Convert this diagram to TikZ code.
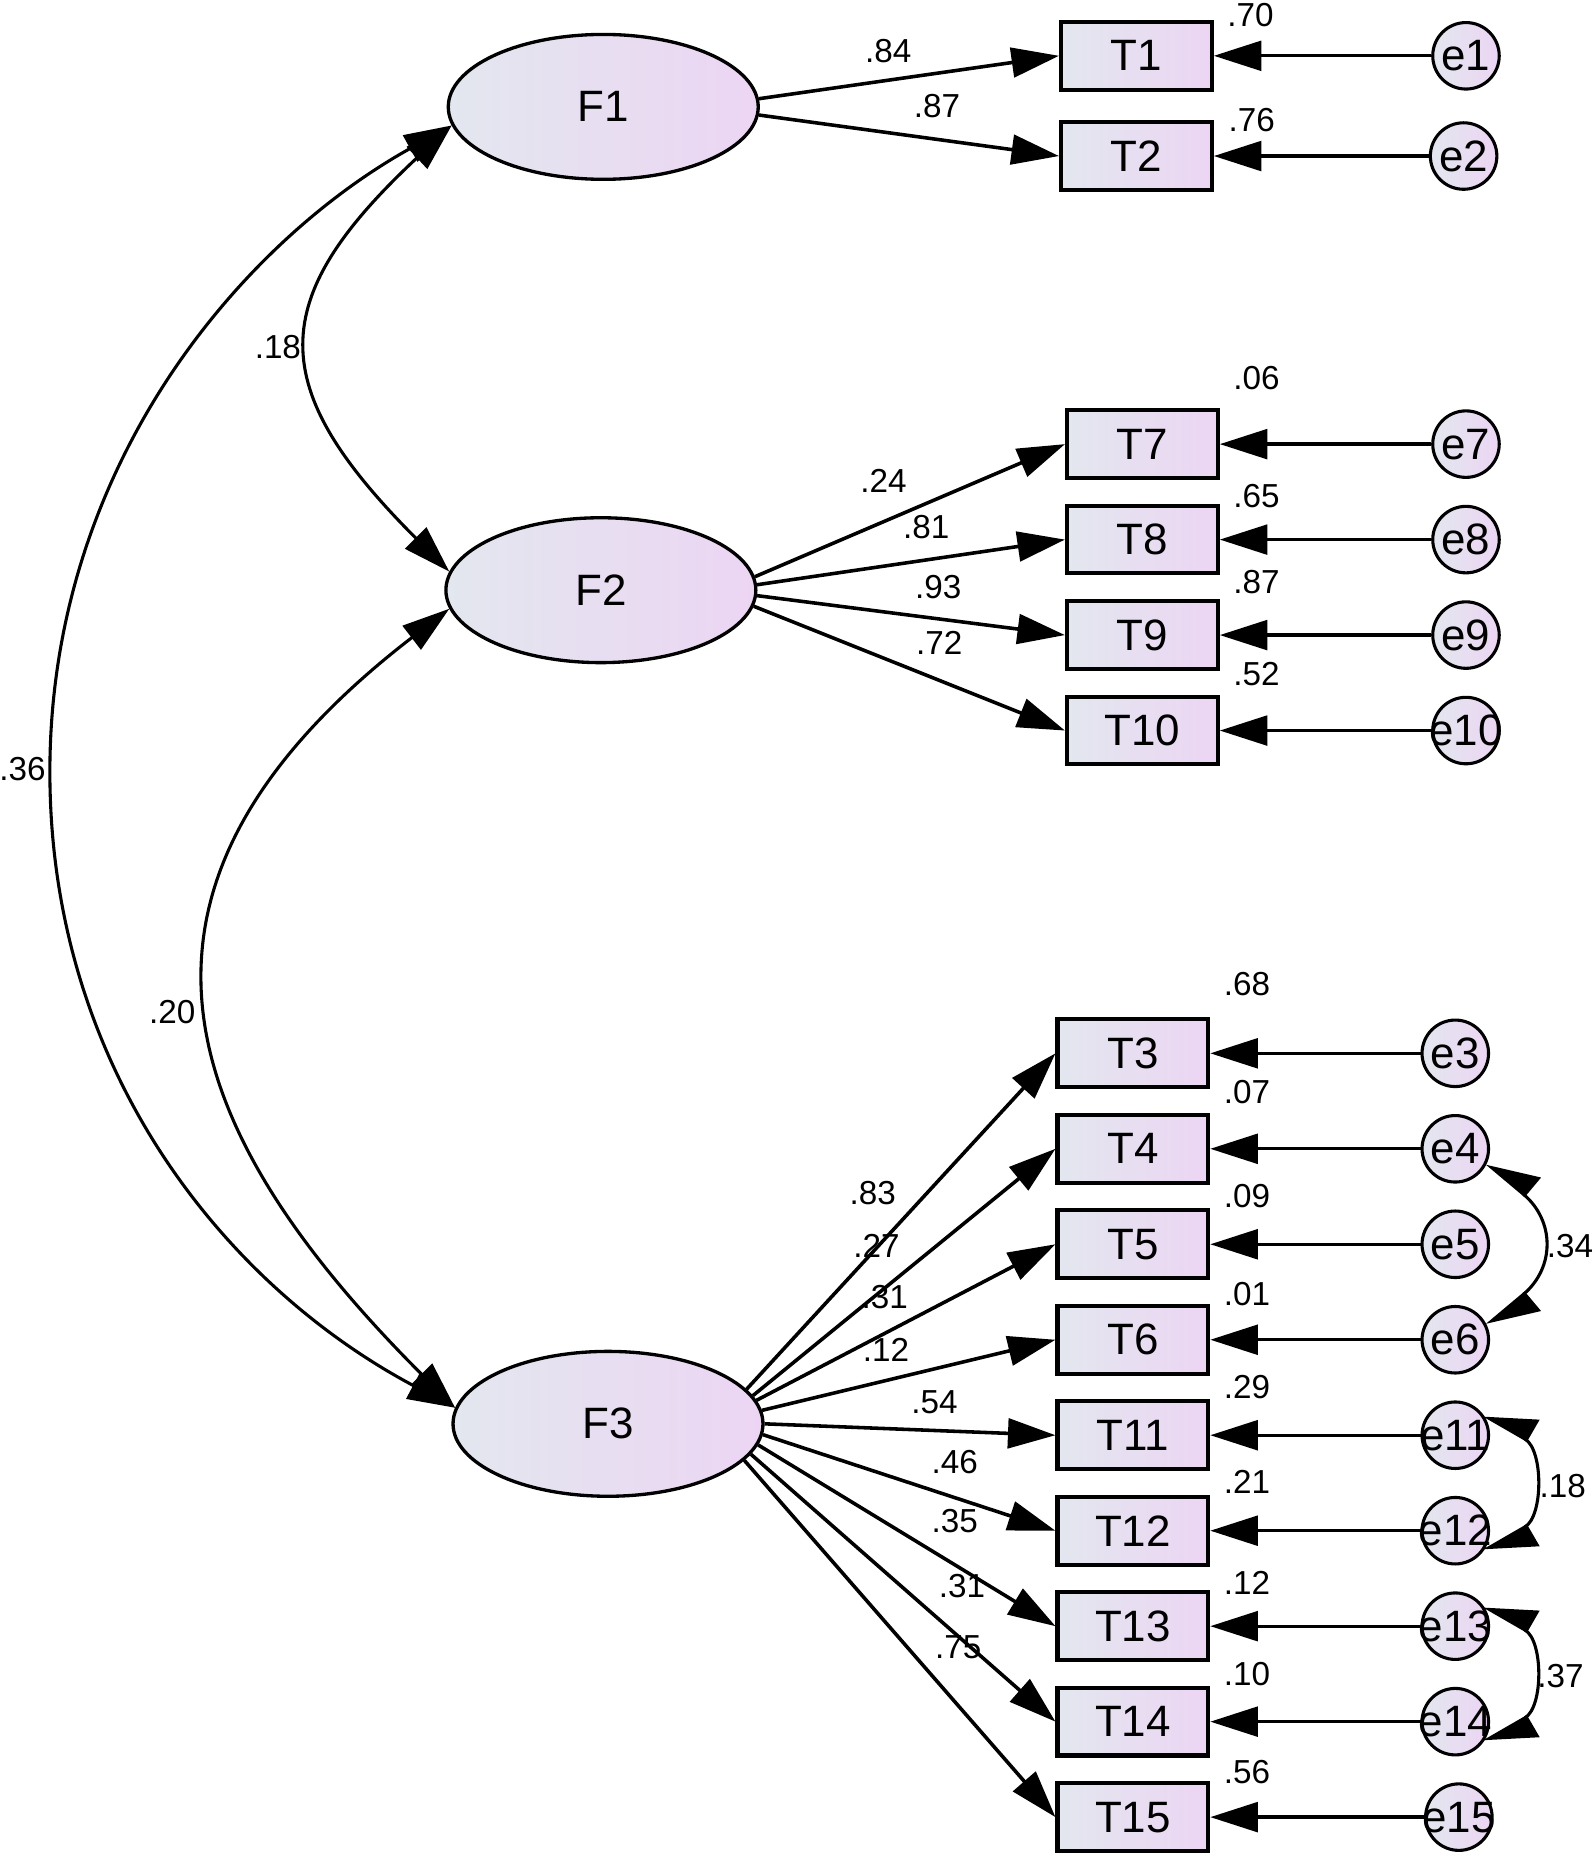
\documentclass[tikz,border=0pt]{standalone}
\usepackage{fontspec}
\setmainfont{Liberation Sans}
\usepackage{tikz}
\usetikzlibrary{arrows.meta,positioning,shapes.geometric}

\definecolor{shadeL}{RGB}{227,231,239}
\definecolor{shadeR}{RGB}{236,213,243}

\begin{document}
\begin{tikzpicture}[
    x=1pt,y=1pt,
    node distance=20pt,
    latent/.style={ellipse,draw,line width=2.8pt,left color=shadeL,right color=shadeR,minimum width=261pt,minimum height=122pt,font=\fontsize{37}{40}\selectfont},
    obs/.style={rectangle,draw,line width=3.4pt,left color=shadeL,right color=shadeR,minimum width=127pt,minimum height=57pt,inner sep=0pt,font=\fontsize{37}{40}\selectfont},
    err/.style={circle,draw,line width=2.6pt,left color=shadeL,right color=shadeR,minimum size=56pt,inner xsep=-12pt,inner ysep=0pt,font=\fontsize{37}{40}\selectfont},
    coef/.style={inner sep=0pt,font=\fontsize{28}{30}\selectfont},
    load/.style={line width=3pt,-{Triangle[length=40pt,width=25pt]}},
    resid/.style={line width=2.8pt,-{Triangle[length=40pt,width=25pt]}},
    cov/.style={line width=2.6pt,{Triangle[length=40pt,width=25pt]}-{Triangle[length=40pt,width=25pt]}},
    ecov/.style={line width=2.6pt,{Triangle[length=40pt,width=40pt,right]}-{Triangle[length=40pt,width=40pt,left]}}]
    \useasboundingbox (0,0) rectangle (1341,-1568);

    \node[latent] (F1) at (508,-90) {F1};
    \node[latent] (F2) at (506,-497) {F2};
    \node[latent] (F3) at (512,-1199) {F3};

    \node[obs] (T1) at (957,-47) {T1};
    \node[obs,below=24pt of T1] (T2) {T2};
    \node[obs] (T7) at (962,-374) {T7};
    \node[obs,below=of T7] (T8) {T8};
    \node[obs,below=of T8] (T9) {T9};
    \node[obs,below=of T9] (T10) {T10};
    \node[obs] (T3) at (954,-887) {T3};
    \node[obs,below=of T3] (T4) {T4};
    \node[obs,below=of T4] (T5) {T5};
    \node[obs,below=of T5] (T6) {T6};
    \node[obs,below=of T6] (T11) {T11};
    \node[obs,below=of T11] (T12) {T12};
    \node[obs,below=of T12] (T13) {T13};
    \node[obs,below=of T13] (T14) {T14};
    \node[obs,below=of T14] (T15) {T15};

    \node[err,right=183pt of T1] (e1) {e1};
    \node[err,right=181pt of T2] (e2) {e2};
    \node[err,right=178pt of T7] (e7) {e7};
    \node[err,right=178pt of T8] (e8) {e8};
    \node[err,right=178pt of T9] (e9) {e9};
    \node[err,right=178pt of T10] (e10) {e10};
    \node[err,right=177pt of T3] (e3) {e3};
    \node[err,right=177pt of T4] (e4) {e4};
    \node[err,right=177pt of T5] (e5) {e5};
    \node[err,right=177pt of T6] (e6) {e6};
    \node[err,right=177pt of T11] (e11) {e11};
    \node[err,right=177pt of T12] (e12) {e12};
    \node[err,right=177pt of T13] (e13) {e13};
    \node[err,right=177pt of T14] (e14) {e14};
    \node[err,right=180pt of T15] (e15) {e15};
    \coordinate (m13) at (42,-650);

    \draw[load] (F1.3) -- (T1.west);
    \draw[load] (F1.-3) -- (T2.west);
    \draw[load] (F2.5) -- (T7.west);
    \draw[load] (F2.2) -- (T8.west);
    \draw[load] (F2.-2) -- (T9.west);
    \draw[load] (F2.-6) -- (T10.west);
    \draw[load] (F3.14) -- (T3.west);
    \draw[load] (F3.11.5) -- (T4.west);
    \draw[load] (F3.9) -- (T5.west);
    \draw[load] (F3.5) -- (T6.west);
    \draw[load] (F3.0) -- (T11.west);
    \draw[load] (F3.-4) -- (T12.west);
    \draw[load] (F3.-8) -- (T13.west);
    \draw[load] (F3.-12) -- (T14.west);
    \draw[load] (F3.-15) -- (T15.west);

    \draw[resid] (e1) -- (T1);
    \draw[resid] (e2) -- (T2);
    \draw[resid] (e7) -- (T7);
    \draw[resid] (e8) -- (T8);
    \draw[resid] (e9) -- (T9);
    \draw[resid] (e10) -- (T10);
    \draw[resid] (e3) -- (T3);
    \draw[resid] (e4) -- (T4);
    \draw[resid] (e5) -- (T5);
    \draw[resid] (e6) -- (T6);
    \draw[resid] (e11) -- (T11);
    \draw[resid] (e12) -- (T12);
    \draw[resid] (e13) -- (T13);
    \draw[resid] (e14) -- (T14);
    \draw[resid] (e15) -- (T15);

    \draw[cov] (F1.187) .. controls +(223:215) and +(135:220) .. (F2.173);
    \draw[cov] (F1.187) .. controls +(209:200) and (42,-390) .. (m13)
      .. controls (42,-900) and +(152:220) .. (F3.174);
    \draw[cov] (F2.187) .. controls +(217.6:385) and +(135:334) .. (F3.174);
    \draw[ecov] (e4.-25) .. controls +(-40:75) and +(40:75) .. (e6.25);
    \draw[ecov] (e11.35) .. controls +(-30:58) and +(30:58) .. (e12.-35);
    \draw[ecov] (e13.35) .. controls +(-30:58) and +(30:58) .. (e14.-35);

    \node[coef] (w1) at (748,-43) {.84};
    \node[coef] (w2) at (789,-89) {.87};
    \node[coef] (w7) at (744,-405) {.24};
    \node[coef] (w8) at (780,-444) {.81};
    \node[coef] (w9) at (790,-494) {.93};
    \node[coef] (w10) at (791,-541) {.72};
    \node[coef] (w3) at (735,-1005) {.83};
    \node[coef] (w4) at (738,-1049) {.27};
    \node[coef] (w5) at (745,-1092) {.31};
    \node[coef] (w6) at (746,-1137) {.12};
    \node[coef] (w11) at (787,-1181) {.54};
    \node[coef] (w12) at (804,-1231) {.46};
    \node[coef] (w13) at (804,-1281) {.35};
    \node[coef] (w14) at (810,-1336) {.31};
    \node[coef] (w15) at (807,-1387) {.75};

    \node[coef] (r1) at (1053,-13) {.70};
    \node[coef] (r2) at (1054,-101) {.76};
    \node[coef] (r7) at (1058,-318) {.06};
    \node[coef] (r8) at (1058,-418) {.65};
    \node[coef] (r9) at (1058,-490) {.87};
    \node[coef] (r10) at (1058,-568) {.52};
    \node[coef] (r3) at (1050,-829) {.68};
    \node[coef] (r4) at (1050,-920) {.07};
    \node[coef] (r5) at (1050,-1007) {.09};
    \node[coef] (r6) at (1050,-1090) {.01};
    \node[coef] (r11) at (1050,-1168) {.29};
    \node[coef] (r12) at (1050,-1248) {.21};
    \node[coef] (r13) at (1050,-1333) {.12};
    \node[coef] (r14) at (1050,-1410) {.10};
    \node[coef] (r15) at (1050,-1492) {.56};

    \node[coef] (c12) at (234,-292) {.18};
    \node[coef] (c13) at (19,-648) {.36};
    \node[coef] (c23) at (145,-852) {.20};
    \node[coef] (c46) at (1322,-1049) {.34};
    \node[coef] (c1112) at (1316,-1251) {.18};
    \node[coef] (c1314) at (1314,-1411) {.37};
\end{tikzpicture}
\end{document}
